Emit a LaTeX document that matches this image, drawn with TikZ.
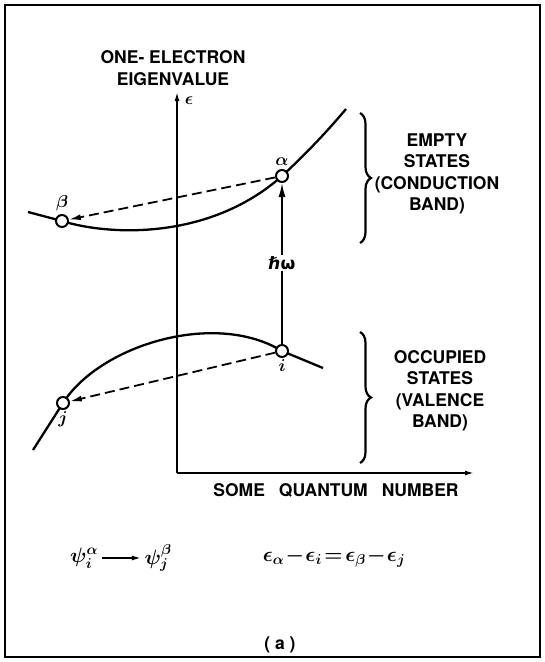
\documentclass[tikz,border=0pt]{standalone}
\usepackage{fontspec}
\setmainfont{TeX Gyre Heros}
\newfontfamily\symfont{DejaVu Sans}
\usetikzlibrary{arrows.meta,decorations.pathreplacing}
\tikzset{
  state/.style={circle, draw, line width=2pt, fill=white, minimum size=12pt, inner sep=0pt,
    path picture={\fill (path picture bounding box.center) circle (1.3pt);}},
  band/.style={line width=2.3pt},
  jump/.style={line width=1.8pt, dash pattern=on 10pt off 5pt, -{Latex[length=12pt,width=6pt]}},
  bandbrace/.style={decorate, decoration={brace, amplitude=11pt}, line width=2.2pt},
  caption/.style={align=center},
  axis/.style={line width=1.6pt, -{Latex[length=9pt,width=5pt]}}
}
\begin{document}
\begin{tikzpicture}[x=1pt, y=-1pt, font=\fontsize{17.5}{21.5}\selectfont\bfseries\boldmath]
\useasboundingbox (0,0) rectangle (545,662);
\draw[line width=1.6pt] (5,5) rectangle (540,657);

%% --- axes ---
\coordinate (origin) at (177,473);
\coordinate (ytop) at (177,92);
\coordinate (xend) at (474,473);
\draw[axis] (origin) -- (ytop);
\draw[axis] (origin) -- (xend);
\node[caption] (ylab) at (173,68) {ONE- ELECTRON\\EIGENVALUE};
\node (eps) at (189,101) {$\epsilon$};
\node (xlab) at (336,490) {SOME\hspace{0.8em}QUANTUM\hspace{0.8em}NUMBER};

%% --- bands ---
\draw[band] (28,212) -- (62,221) .. controls (110,236) and (210,240) .. (282,176)
  .. controls (310,150) and (330,128) .. (346,109);
\draw[band] (33,450) -- (63,403) .. controls (100,345) and (215,310) .. (282,351)
  -- (323,368);

%% --- states ---
\node[state] (alpha) at (282,176) {};
\node[state] (beta)  at (62,221)  {};
\node[state] (i)     at (282,351) {};
\node[state] (j)     at (63,403)  {};
\node[above=0pt] at (alpha.north) {$\alpha$};
\node[above=0pt] at (beta.north)  {$\beta$};
\node[below=-2pt] at (i.south) {$i$};
\node[below=-2pt] at (j.south) {$j$};

%% --- transitions ---
\draw[jump] (alpha) -- (beta);
\draw[jump] (i) -- (j);
\node[inner sep=1pt, font=\symfont\fontsize{17}{20}\selectfont\bfseries] (hw) at (282,263) {ℏω};
\draw[line width=1.6pt] (i) -- (hw);
\draw[line width=1.6pt, -{Latex[length=14pt,width=7pt]}] (hw) -- (alpha);

%% --- braces ---
\draw[bandbrace] (360,113) -- (360,243);
\draw[bandbrace] (360,332) -- (360,463);
\node[caption] (empty) at (437,174) {EMPTY\\STATES\\(CONDUCTION\\BAND)};
\node[caption] (occ)   at (440,391) {OCCUPIED\\STATES\\(VALENCE\\BAND)};

%% --- relations ---
\node[font=\fontsize{20}{24}\selectfont\boldmath] (psia) at (84,558) {$\psi_i^{\alpha}$};
\node[font=\fontsize{20}{24}\selectfont\boldmath] (psib) at (158,558) {$\psi_j^{\beta}$};
\draw[line width=1.6pt, -{Latex[length=9pt,width=5pt]}] (psia.east) -- (psib.west);
\node[font=\fontsize{20}{24}\selectfont\boldmath] (energy) at (334,558)
  {$\epsilon_\alpha\!-\!\epsilon_i\!=\!\epsilon_\beta\!-\!\epsilon_j$};
\node (tag) at (280,645) {( a )};
\end{tikzpicture}
\end{document}
